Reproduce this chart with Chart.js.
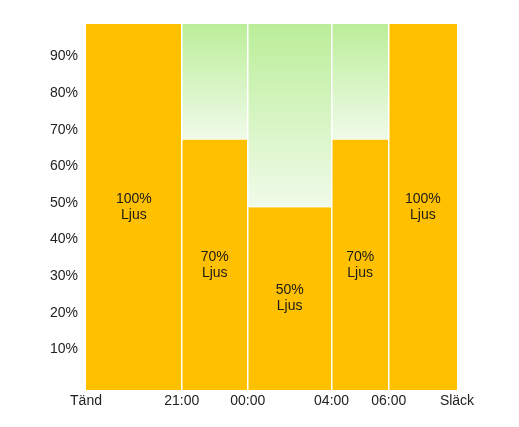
<!DOCTYPE html>
<html>
<head>
<meta charset="utf-8">
<script src="https://cdn.jsdelivr.net/npm/chart.js@4.4.1/dist/chart.umd.min.js"></script>
<style>
  body { margin: 0; background: #fff; }
</style>
</head>
<body>
<canvas id="chart" width="519" height="427"></canvas>
<script>
// gränser mellan perioderna (0 = Tänd, 100 = Släck)
const kanter = [0, 25.8, 43.6, 66.2, 81.6, 100];
const kantEtiketter = ['Tänd', '21:00', '00:00', '04:00', '06:00', 'Släck'];
// ljusnivå per period
const ljusNiva = [100, 68.5, 50, 68.5, 100];
const ljusText = ['100%', '70%', '50%', '70%', '100%'];
const yTicks = [10, 20, 30, 40, 50, 60, 70, 80, 90];

const orange = '#FFC000';
const typsnitt = '"Liberation Sans", Arial, sans-serif';

function gronGradient(ctx, i) {
    const chart = ctx.chart;
    if (!chart.chartArea) return '#d8f5c8';
    const y = chart.scales.y;
    const g = chart.ctx.createLinearGradient(0, y.getPixelForValue(100), 0, y.getPixelForValue(ljusNiva[i]));
    g.addColorStop(0, '#BBEE99');
    g.addColorStop(1, '#F0FBEA');
    return g;
}

const datasets = [];
ljusNiva.forEach((v, i) => {
    const idx = datasets.length;
    datasets.push({
        data: [{ x: kanter[i], y: v }, { x: kanter[i + 1], y: v }],
        fill: 'origin',
        backgroundColor: orange,
        borderColor: 'rgba(255,255,255,0.8)',
        borderWidth: v < 100 ? 1 : 0,
        pointRadius: 0
    });
    if (v < 100) {
        datasets.push({
            data: [{ x: kanter[i], y: 100 }, { x: kanter[i + 1], y: 100 }],
            fill: idx,
            backgroundColor: ctx => gronGradient(ctx, i),
            borderWidth: 0,
            pointRadius: 0
        });
    }
});

// texten mitt i varje stapel
const stapelText = {
    id: 'stapelText',
    afterDatasetsDraw(chart) {
        const { ctx, scales: { x, y } } = chart;
        ctx.save();
        ctx.fillStyle = '#1a1a1a';
        ctx.font = '14px ' + typsnitt;
        ctx.textAlign = 'center';
        ctx.textBaseline = 'middle';
        ljusNiva.forEach((v, i) => {
            const cx = (x.getPixelForValue(kanter[i]) + x.getPixelForValue(kanter[i + 1])) / 2;
            const cy = (y.getPixelForValue(0) + y.getPixelForValue(v)) / 2;
            ctx.fillText(ljusText[i], cx, cy - 8);
            ctx.fillText('Ljus', cx, cy + 8);
        });
        ctx.restore();
    }
};

new Chart(document.getElementById('chart'), {
    type: 'line',
    data: { datasets },
    plugins: [stapelText],
    options: {
        responsive: false,
        animation: false,
        layout: { padding: { top: 24, right: 62, left: 0, bottom: 0 } },
        plugins: { legend: { display: false }, tooltip: { enabled: false } },
        scales: {
            x: {
                type: 'linear',
                min: 0,
                max: 100,
                afterBuildTicks: s => { s.ticks = kanter.map(v => ({ value: v })); },
                afterFit: s => { s.height = 37; },
                border: { display: false },
                grid: {
                    z: 1,
                    drawTicks: false,
                    lineWidth: 1.5,
                    color: c => (c.index === 0 || c.index === kanter.length - 1) ? 'rgba(0,0,0,0)' : '#ffffff'
                },
                ticks: {
                    padding: 3,
                    maxRotation: 0,
                    autoSkip: false,
                    color: '#222',
                    font: { family: typsnitt, size: 14 },
                    callback: (v, i) => kantEtiketter[i]
                }
            },
            y: {
                min: 0,
                max: 100,
                afterBuildTicks: s => { s.ticks = yTicks.map(v => ({ value: v })); },
                afterFit: s => { s.width = 86; },
                border: { display: false },
                grid: { display: false, drawTicks: false },
                ticks: {
                    padding: 8,
                    labelOffset: -4,
                    color: '#222',
                    font: { family: typsnitt, size: 14 },
                    callback: v => v + '%'
                }
            }
        }
    }
});
</script>
</body>
</html>
